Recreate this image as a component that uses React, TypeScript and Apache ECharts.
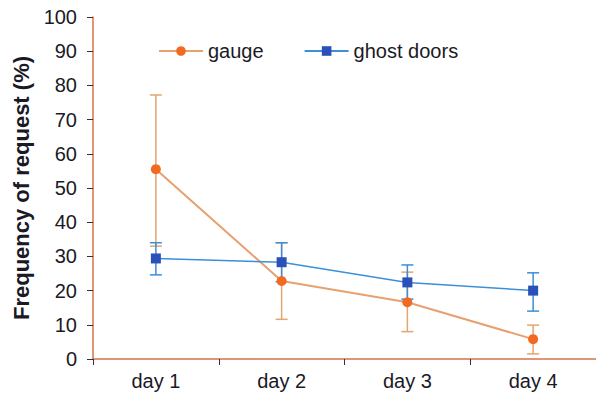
import React, { useEffect, useRef } from "react";
import * as echarts from "echarts";

const categories = ["day 1", "day 2", "day 3", "day 4"];
const gaugeMean = [55.5, 22.8, 16.6, 5.8];
const gaugeLow = [33.0, 11.6, 8.0, 1.5];
const gaugeHigh = [77.2, 34.0, 25.4, 9.9];
const ghostMean = [29.4, 28.3, 22.4, 20.0];
const ghostLow = [24.6, 22.6, 17.5, 14.0];
const ghostHigh = [34.0, 34.0, 27.5, 25.2];

const FONT = "Liberation Sans, Arial, sans-serif";

function errorSeries(name: string, low: number[], high: number[], color: string, z: number) {
  return {
    type: "custom",
    name: name + "_err",
    z,
    silent: true,
    data: low.map((l, i) => [i, l, high[i]]),
    encode: { x: 0, y: [1, 2] },
    renderItem: (params: any, api: any) => {
      const x = api.value(0);
      const lo = api.coord([x, api.value(1)]);
      const hi = api.coord([x, api.value(2)]);
      const w = 6;
      const style = { stroke: color, lineWidth: 1.5 };
      return {
        type: "group",
        children: [
          { type: "line", shape: { x1: hi[0], y1: hi[1], x2: lo[0], y2: lo[1] }, style },
          { type: "line", shape: { x1: hi[0] - w, y1: hi[1], x2: hi[0] + w, y2: hi[1] }, style },
          { type: "line", shape: { x1: lo[0] - w, y1: lo[1], x2: lo[0] + w, y2: lo[1] }, style },
        ],
      };
    },
  };
}

export default function App() {
  const ref = useRef<HTMLDivElement>(null);
  useEffect(() => {
    document.body.style.margin = "0";
    if (!ref.current) return;
    const chart = echarts.init(ref.current, null, { renderer: "svg" });
    chart.setOption({
      animation: false,
      backgroundColor: "#ffffff",
      textStyle: { fontFamily: FONT },
      legend: {
        left: 153,
        top: 36,
        itemWidth: 44,
        itemHeight: 12,
        itemGap: 40,
        textStyle: { fontSize: 20, color: "#1a1a26", fontFamily: FONT },
        data: ["gauge", "ghost doors"],
      },
      grid: { left: 93, right: -5, top: 17, bottom: 39, containLabel: false },
      xAxis: {
        type: "category",
        data: categories,
        boundaryGap: true,
        axisLine: { lineStyle: { color: "#d8704a", width: 1.5 } },
        axisTick: { show: true, length: 6, lineStyle: { color: "#333" } },
        axisLabel: { fontSize: 20, color: "#1a1a26", margin: 12, fontFamily: FONT },
        splitLine: { show: false },
      },
      yAxis: {
        type: "value",
        min: 0,
        max: 100,
        interval: 10,
        name: "Frequency of request (%)",
        nameLocation: "middle",
        nameGap: 57,
        nameTextStyle: { fontSize: 22, fontWeight: "bold", color: "#1a1a26", fontFamily: FONT },
        axisLine: { show: true, lineStyle: { color: "#d8704a", width: 1.5 } },
        axisTick: { show: true, length: 6, lineStyle: { color: "#333" } },
        axisLabel: { fontSize: 20, color: "#1a1a26", margin: 16, fontFamily: FONT },
        splitLine: { show: false },
      },
      series: [
        errorSeries("gauge", gaugeLow, gaugeHigh, "#e2a66e", 1),
        errorSeries("ghost doors", ghostLow, ghostHigh, "#3a8fd8", 2),
        {
          type: "line",
          name: "gauge",
          data: gaugeMean,
          z: 3,
          symbol: "circle",
          symbolSize: 10,
          lineStyle: { color: "#e8a070", width: 2 },
          itemStyle: { color: "#f26a22" },
        },
        {
          type: "line",
          name: "ghost doors",
          data: ghostMean,
          z: 4,
          symbol: "rect",
          symbolSize: 10,
          lineStyle: { color: "#3d8fd6", width: 1.5 },
          itemStyle: { color: "#2b50b8" },
        },
      ],
    });
    return () => chart.dispose();
  }, []);
  return <div ref={ref} style={{ width: 596, height: 398 }} />;
}
